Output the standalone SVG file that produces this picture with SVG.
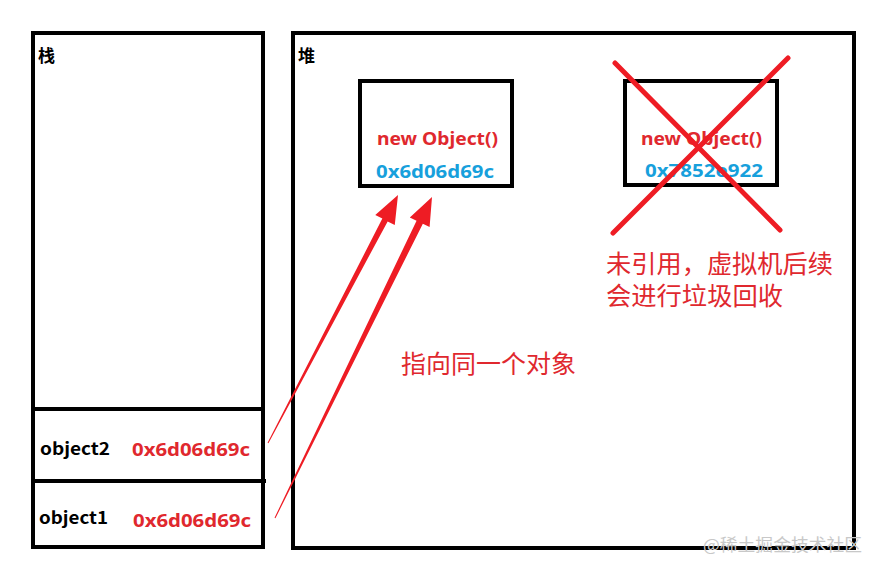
<svg xmlns="http://www.w3.org/2000/svg" width="870" height="561" viewBox="0 0 870 561">
<style>
.box{fill:none;stroke:#000;stroke-width:4}
.lbl{font-family:"Noto Sans CJK SC","Noto Sans",sans-serif;font-weight:bold;font-size:17px;fill:#000}
.red{font-family:"Noto Sans","Noto Sans CJK SC",sans-serif;font-weight:bold;font-size:18px;fill:#e0282e}
.blue{font-family:"Noto Sans","Noto Sans CJK SC",sans-serif;font-weight:bold;font-size:18px;fill:#17a0dc}
.note{font-family:"Noto Sans CJK SC",sans-serif;font-size:25px;fill:#e0282e}
.arrow{fill:#ee1c24}
.cross{stroke:#ee1c24;stroke-width:5;stroke-linecap:round}
</style>
<rect width="870" height="561" fill="#fff"/>
<g id="stack">
<rect class="box" x="33" y="33" width="230" height="514"/>
<text class="lbl" x="38" y="62" font-size="16">栈</text>
</g>
<g id="object2">
<line class="box" x1="33" y1="409" x2="263" y2="409"/>
<text class="lbl" x="40" y="455" font-size="18" textLength="70" lengthAdjust="spacingAndGlyphs">object2</text>
<text class="red" x="132" y="456" font-size="19" textLength="118" lengthAdjust="spacingAndGlyphs">0x6d06d69c</text>
</g>
<g id="object1">
<line class="box" x1="33" y1="481" x2="266" y2="481"/>
<text class="lbl" x="39" y="524" font-size="18" textLength="69" lengthAdjust="spacingAndGlyphs">object1</text>
<text class="red" x="133" y="527" font-size="19" textLength="118" lengthAdjust="spacingAndGlyphs">0x6d06d69c</text>
</g>
<g id="heap">
<rect class="box" x="293" y="33" width="561" height="515"/>
<text class="lbl" x="298" y="62" font-size="16">堆</text>
</g>
<g id="obj-a">
<rect class="box" x="360" y="81" width="152" height="105"/>
<text class="red" x="377" y="145" textLength="121" lengthAdjust="spacingAndGlyphs">new Object()</text>
<text class="blue" x="376" y="178" textLength="118" lengthAdjust="spacingAndGlyphs">0x6d06d69c</text>
</g>
<g id="obj-b">
<rect class="box" x="625" y="81" width="152" height="104"/>
<text class="red" x="641" y="145" textLength="121" lengthAdjust="spacingAndGlyphs">new Object()</text>
<text class="blue" x="645" y="177" textLength="118" lengthAdjust="spacingAndGlyphs">0x7852e922</text>
<line class="cross" x1="615" y1="63" x2="780" y2="230"/>
<line class="cross" x1="788" y1="58" x2="613" y2="233"/>
</g>
<g id="gc-note">
<text class="note" x="606" y="273" textLength="227" lengthAdjust="spacingAndGlyphs">未引用，虚拟机后续</text>
<text class="note" x="606" y="305" textLength="177" lengthAdjust="spacingAndGlyphs">会进行垃圾回收</text>
</g>
<g id="same-note">
<text class="note" x="401" y="373" textLength="175" lengthAdjust="spacingAndGlyphs">指向同一个对象</text>
</g>
<g id="connectors">
<polygon class="arrow" points="267.56,442.77 382.34,218.61 375.25,214.9 398,195 394.75,225.1 387.66,221.39 268.44,443.23"/>
<polygon class="arrow" points="274.55,517.78 416.56,220.66 409.8,217.4 432,197 429.6,227.0 422.84,223.74 275.45,518.22"/>
</g>
<text x="703" y="551" font-family="Noto Sans CJK SC,sans-serif" font-size="17" fill="#c8c8c8" textLength="159" lengthAdjust="spacingAndGlyphs">@稀土掘金技术社区</text>
</svg>
